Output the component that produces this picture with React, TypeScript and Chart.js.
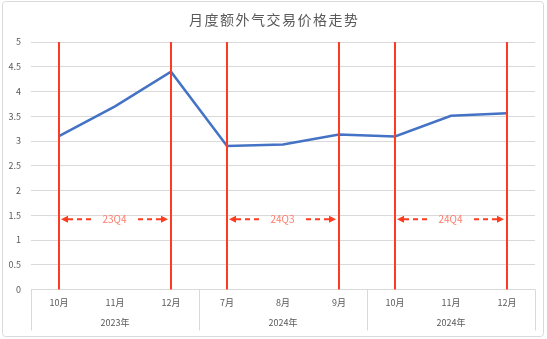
import React, { useEffect, useRef } from 'react';
import { Chart, registerables } from 'chart.js';

Chart.register(...registerables);

const title = '月度额外气交易价格走势';
const categories = ['10月', '11月', '12月', '7月', '8月', '9月', '10月', '11月', '12月'];
const prices = [3.1, 3.7, 4.4, 2.9, 2.93, 3.13, 3.09, 3.51, 3.56];
const yTicksMin = 0;
const yTicksMax = 5;
const yTickStep = 0.5;

const groupLabels = ['2023年', '2024年', '2024年'];
const groupStarts = [0, 3, 6];
const groupEnds = [2, 5, 8];

const markerIndexes = [0, 2, 3, 5, 6, 8];

const spanLabels = ['23Q4', '24Q3', '24Q4'];
const spanFrom = [0, 3, 6];
const spanTo = [2, 5, 8];
const spanLevel = 1.42;

const FONT = '"Noto Sans CJK SC", "Noto Sans", sans-serif';
const TEXT = '#595959';
const GRID = '#d9d9d9';
const RED = '#FF3B1F';
const SALMON = '#FF7B6B';

const decorPlugin = {
  id: 'decor',
  beforeDraw(chart: any) {
    const { ctx, width, height } = chart;
    ctx.save();
    ctx.strokeStyle = GRID;
    ctx.lineWidth = 1;
    const r = 3;
    const x0 = 2.5, y0 = 1.5, x1 = width - 3.5, y1 = height - 2.5;
    ctx.beginPath();
    ctx.moveTo(x0 + r, y0);
    ctx.lineTo(x1 - r, y0);
    ctx.arcTo(x1, y0, x1, y0 + r, r);
    ctx.lineTo(x1, y1 - r);
    ctx.arcTo(x1, y1, x1 - r, y1, r);
    ctx.lineTo(x0 + r, y1);
    ctx.arcTo(x0, y1, x0, y1 - r, r);
    ctx.lineTo(x0, y0 + r);
    ctx.arcTo(x0, y0, x0 + r, y0, r);
    ctx.stroke();

    ctx.fillStyle = TEXT;
    ctx.font = '14px ' + FONT;
    (ctx as any).letterSpacing = '1.5px';
    ctx.textAlign = 'center';
    ctx.textBaseline = 'middle';
    ctx.fillText(title, width / 2 + 0.75, 20);
    (ctx as any).letterSpacing = '0px';
    ctx.restore();
  },
  afterDatasetsDraw(chart: any) {
    const { ctx, chartArea, scales } = chart;
    const x = scales.x;
    const y = scales.y;
    ctx.save();

    ctx.strokeStyle = RED;
    ctx.lineWidth = 2;
    markerIndexes.forEach((i) => {
      const px = Math.round(x.getPixelForValue(i));
      ctx.beginPath();
      ctx.moveTo(px, chartArea.top);
      ctx.lineTo(px, chartArea.bottom);
      ctx.stroke();
    });

    const py = y.getPixelForValue(spanLevel);
    ctx.font = '10px ' + FONT;
    spanLabels.forEach((lab, k) => {
      const a = x.getPixelForValue(spanFrom[k]) + 2;
      const b = x.getPixelForValue(spanTo[k]) - 3;
      const mid = (a + b) / 2;
      const tw = ctx.measureText(lab).width;
      const gap = 8;
      const ah = 7;
      ctx.fillStyle = RED;
      ctx.beginPath();
      ctx.moveTo(a, py);
      ctx.lineTo(a + ah, py - 3.5);
      ctx.lineTo(a + ah, py + 3.5);
      ctx.closePath();
      ctx.fill();
      ctx.beginPath();
      ctx.moveTo(b, py);
      ctx.lineTo(b - ah, py - 3.5);
      ctx.lineTo(b - ah, py + 3.5);
      ctx.closePath();
      ctx.fill();
      ctx.strokeStyle = RED;
      ctx.lineWidth = 2;
      ctx.setLineDash([5, 4]);
      ctx.beginPath();
      ctx.moveTo(a + ah, py);
      ctx.lineTo(mid - tw / 2 - gap, py);
      ctx.moveTo(b - ah, py);
      ctx.lineTo(mid + tw / 2 + gap, py);
      ctx.stroke();
      ctx.setLineDash([]);
      ctx.fillStyle = SALMON;
      ctx.textAlign = 'center';
      ctx.textBaseline = 'middle';
      ctx.fillText(lab, mid, py);
    });
    ctx.restore();
  },
  afterDraw(chart: any) {
    const { ctx, chartArea, scales } = chart;
    const x = scales.x;
    ctx.save();
    ctx.strokeStyle = GRID;
    ctx.lineWidth = 1;
    const top = chartArea.bottom;
    const bot = chartArea.bottom + 41;
    const edges = new Set<number>();
    groupStarts.forEach((s, k) => {
      edges.add(s - 0.5);
      edges.add(groupEnds[k] + 0.5);
    });
    edges.forEach((v) => {
      const px = Math.round(x.getPixelForValue(v)) + 0.5;
      ctx.beginPath();
      ctx.moveTo(px, top);
      ctx.lineTo(px, bot);
      ctx.stroke();
    });
    ctx.fillStyle = TEXT;
    ctx.font = '9px ' + FONT;
    ctx.textAlign = 'center';
    ctx.textBaseline = 'middle';
    groupLabels.forEach((lab, k) => {
      const cx = (x.getPixelForValue(groupStarts[k]) + x.getPixelForValue(groupEnds[k])) / 2;
      ctx.fillText(lab, cx, chartArea.bottom + 33.5);
    });
    ctx.restore();
  },
};

export default function App() {
  const ref = useRef<HTMLCanvasElement>(null);
  useEffect(() => {
    if (!ref.current) return;
    const chart = new Chart(ref.current, {
      type: 'line',
      data: {
        labels: categories,
        datasets: [
          {
            data: prices,
            borderColor: '#4472C4',
            borderWidth: 2.5,
            pointRadius: 0,
            tension: 0,
            fill: false,
          },
        ],
      },
      options: {
        animation: false,
        responsive: false,
        devicePixelRatio: 1,
        layout: { padding: { top: 42, right: 12, bottom: 0, left: 0 } },
        plugins: {
          legend: { display: false },
          title: { display: false },
          tooltip: { enabled: false },
        },
        scales: {
          x: {
            type: 'category',
            offset: true,
            grid: { display: false, drawTicks: false },
            border: { display: false },
            ticks: {
              color: TEXT,
              font: { size: 9, family: FONT },
              padding: 8,
              maxRotation: 0,
              autoSkip: false,
            },
            afterFit: (s: any) => {
              s.height = 49.5;
            },
          },
          y: {
            min: yTicksMin,
            max: yTicksMax,
            grid: { color: GRID, drawTicks: false, lineWidth: 1 },
            border: { display: false },
            ticks: {
              stepSize: yTickStep,
              color: TEXT,
              font: { size: 9, family: FONT },
              padding: 10,
              callback: (v: any) => String(Number(v)),
            },
            afterFit: (s: any) => {
              s.width = 31;
            },
          },
        },
      },
      plugins: [decorPlugin],
    });
    return () => chart.destroy();
  }, []);
  return (
    <div style={{ position: 'absolute', left: 0, top: 0, width: 547, height: 339, background: '#fff' }}>
      <canvas ref={ref} width={547} height={339} />
    </div>
  );
}
